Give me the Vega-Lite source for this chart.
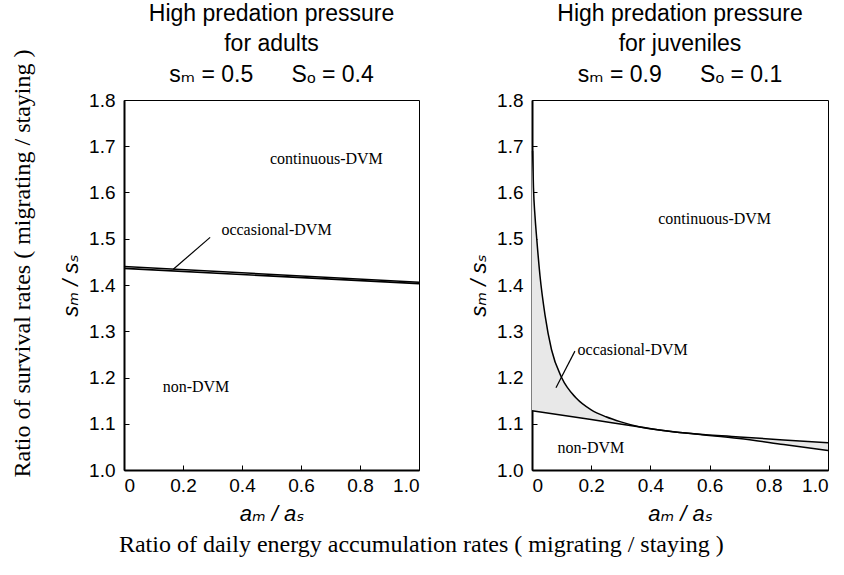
{
  "$schema": "https://vega.github.io/schema/vega-lite/v6.json",
  "background": "white",
  "padding": {"left": 11, "top": 2, "right": 5, "bottom": 5},
  "datasets": {
    "leftLines": [
      {"series": "a", "x": 0, "y": 1.440},
      {"series": "a", "x": 1, "y": 1.406},
      {"series": "b", "x": 0, "y": 1.436},
      {"series": "b", "x": 1, "y": 1.403}
    ],
    "rightLines": [
      {"series": "upper", "x": 0.002, "y": 1.69},
      {"series": "upper", "x": 0.005, "y": 1.61},
      {"series": "upper", "x": 0.01, "y": 1.55},
      {"series": "upper", "x": 0.016, "y": 1.50},
      {"series": "upper", "x": 0.027, "y": 1.42},
      {"series": "upper", "x": 0.044, "y": 1.335},
      {"series": "upper", "x": 0.066, "y": 1.26},
      {"series": "upper", "x": 0.1, "y": 1.2},
      {"series": "upper", "x": 0.15, "y": 1.155},
      {"series": "upper", "x": 0.2, "y": 1.13},
      {"series": "upper", "x": 0.25, "y": 1.115},
      {"series": "upper", "x": 0.3, "y": 1.104},
      {"series": "upper", "x": 0.365, "y": 1.093},
      {"series": "upper", "x": 0.45, "y": 1.085},
      {"series": "upper", "x": 0.55, "y": 1.078},
      {"series": "upper", "x": 0.7, "y": 1.068},
      {"series": "upper", "x": 0.85, "y": 1.055},
      {"series": "upper", "x": 1.0, "y": 1.042},
      {"series": "lower", "x": 0, "y": 1.128},
      {"series": "lower", "x": 0.2, "y": 1.109},
      {"series": "lower", "x": 0.365, "y": 1.093},
      {"series": "lower", "x": 0.5, "y": 1.081},
      {"series": "lower", "x": 0.7, "y": 1.0715},
      {"series": "lower", "x": 0.85, "y": 1.065},
      {"series": "lower", "x": 1.0, "y": 1.059}
    ],
    "shade": [
      {"part": "p1", "x": 0.0, "hi": 1.69, "lo": 1.128},
      {"part": "p1", "x": 0.002, "hi": 1.69, "lo": 1.128},
      {"part": "p1", "x": 0.005, "hi": 1.61, "lo": 1.1275},
      {"part": "p1", "x": 0.01, "hi": 1.55, "lo": 1.127},
      {"part": "p1", "x": 0.016, "hi": 1.50, "lo": 1.1265},
      {"part": "p1", "x": 0.027, "hi": 1.42, "lo": 1.1255},
      {"part": "p1", "x": 0.044, "hi": 1.335, "lo": 1.124},
      {"part": "p1", "x": 0.066, "hi": 1.26, "lo": 1.122},
      {"part": "p1", "x": 0.1, "hi": 1.2, "lo": 1.1185},
      {"part": "p1", "x": 0.15, "hi": 1.155, "lo": 1.1135},
      {"part": "p1", "x": 0.2, "hi": 1.13, "lo": 1.109},
      {"part": "p1", "x": 0.25, "hi": 1.115, "lo": 1.104},
      {"part": "p1", "x": 0.3, "hi": 1.104, "lo": 1.099},
      {"part": "p1", "x": 0.365, "hi": 1.093, "lo": 1.093},
      {"part": "p2", "x": 0.62, "hi": 1.0755, "lo": 1.0755},
      {"part": "p2", "x": 0.7, "hi": 1.0715, "lo": 1.068},
      {"part": "p2", "x": 0.85, "hi": 1.065, "lo": 1.055},
      {"part": "p2", "x": 1.0, "hi": 1.059, "lo": 1.042}
    ],
    "leftLabels": [
      {"label": "continuous-DVM", "x": 0.686, "y": 1.672},
      {"label": "occasional-DVM", "x": 0.517, "y": 1.52},
      {"label": "non-DVM", "x": 0.244, "y": 1.179}
    ],
    "rightLabels": [
      {"label": "continuous-DVM", "x": 0.617, "y": 1.542},
      {"label": "occasional-DVM", "x": 0.34, "y": 1.26},
      {"label": "non-DVM", "x": 0.199, "y": 1.048}
    ],
    "leftLeader": [{"x": 0.292, "y": 1.503, "x2": 0.167, "y2": 1.434}],
    "rightLeader": [{"x": 0.145, "y": 1.257, "x2": 0.081, "y2": 1.178}]
  },
  "config": {
    "view": {"stroke": "black", "strokeWidth": 1},
    "font": "Liberation Sans",
    "axis": {
      "grid": false,
      "domainColor": "black",
      "domainWidth": 2,
      "tickColor": "black",
      "tickSize": -5,
      "labelPadding": 14,
      "labelFont": "Liberation Sans",
      "labelFontSize": 19,
      "labelColor": "black",
      "titleFont": "Liberation Sans, DejaVu Sans",
      "titleFontSize": 22,
      "titleFontStyle": "italic",
      "titleFontWeight": "normal",
      "titleColor": "black"
    },
    "axisX": {"labelPadding": 11},
    "title": {
      "font": "Liberation Sans",
      "fontSize": 23,
      "fontWeight": "normal",
      "color": "black",
      "lineHeight": 30,
      "subtitleFont": "Liberation Sans, DejaVu Sans",
      "subtitleFontSize": 23,
      "subtitleColor": "black",
      "subtitlePadding": 8,
      "anchor": "middle",
      "offset": 4
    }
  },
  "title": {
    "text": "Ratio of daily energy accumulation rates ( migrating / staying )",
    "orient": "bottom",
    "font": "Liberation Serif",
    "fontSize": 24,
    "lineHeight": 26,
    "anchor": "middle",
    "offset": 8
  },
  "vconcat": [
    {
      "title": {
        "text": "Ratio of survival rates ( migrating / staying )",
        "orient": "left",
        "font": "Liberation Serif",
        "fontSize": 24,
        "lineHeight": 26,
        "anchor": "middle",
        "offset": 24
      },
      "spacing": 44,
      "hconcat": [
        {
          "width": 295,
          "height": 370,
          "title": {
            "text": ["High predation pressure", "for adults"],
            "subtitle": "sₘ = 0.5\u00a0\u00a0\u00a0\u00a0\u00a0\u00a0Sₒ = 0.4"
          },
          "layer": [
            {
              "data": {"name": "leftLines"},
              "mark": {"type": "line", "color": "black", "strokeWidth": 1.6},
              "encoding": {
                "x": {"field": "x", "type": "quantitative", "scale": {"domain": [0, 1], "nice": false},
                  "axis": {"values": [0, 0.2, 0.4, 0.6, 0.8, 1.0], "labelExpr": "datum.value == 0 ? '0' : format(datum.value, '.1f')", "title": "aₘ / aₛ", "titlePadding": 8}},
                "y": {"field": "y", "type": "quantitative", "scale": {"domain": [1.0, 1.8], "nice": false, "zero": false},
                  "axis": {"values": [1.0, 1.1, 1.2, 1.3, 1.4, 1.5, 1.6, 1.7, 1.8], "format": ".1f", "title": "sₘ / sₛ", "titlePadding": 6}},
                "detail": {"field": "series"}
              }
            },
            {
              "data": {"name": "leftLeader"},
              "mark": {"type": "rule", "color": "black", "strokeWidth": 1.2},
              "encoding": {
                "x": {"field": "x", "type": "quantitative"},
                "y": {"field": "y", "type": "quantitative"},
                "x2": {"field": "x2"},
                "y2": {"field": "y2"}
              }
            },
            {
              "data": {"name": "leftLabels"},
              "mark": {"type": "text", "font": "Liberation Serif", "fontSize": 16, "color": "black"},
              "encoding": {
                "x": {"field": "x", "type": "quantitative"},
                "y": {"field": "y", "type": "quantitative"},
                "text": {"field": "label"}
              }
            }
          ]
        },
        {
          "width": 296,
          "height": 370,
          "title": {
            "text": ["High predation pressure", "for juveniles"],
            "subtitle": "sₘ = 0.9\u00a0\u00a0\u00a0\u00a0\u00a0\u00a0Sₒ = 0.1"
          },
          "layer": [
            {
              "data": {"name": "shade"},
              "mark": {"type": "area", "color": "#e8e8e8", "opacity": 1},
              "encoding": {
                "x": {"field": "x", "type": "quantitative", "scale": {"domain": [0, 1], "nice": false},
                  "axis": {"values": [0, 0.2, 0.4, 0.6, 0.8, 1.0], "labelExpr": "datum.value == 0 ? '0' : format(datum.value, '.1f')", "title": "aₘ / aₛ", "titlePadding": 8}},
                "y": {"field": "hi", "type": "quantitative", "scale": {"domain": [1.0, 1.8], "nice": false, "zero": false},
                  "axis": {"values": [1.0, 1.1, 1.2, 1.3, 1.4, 1.5, 1.6, 1.7, 1.8], "format": ".1f", "title": "sₘ / sₛ", "titlePadding": 6}},
                "y2": {"field": "lo"},
                "detail": {"field": "part"}
              }
            },
            {
              "data": {"name": "rightLines"},
              "mark": {"type": "line", "color": "black", "strokeWidth": 1.5, "interpolate": "monotone"},
              "encoding": {
                "x": {"field": "x", "type": "quantitative"},
                "y": {"field": "y", "type": "quantitative"},
                "detail": {"field": "series"}
              }
            },
            {
              "data": {"name": "rightLeader"},
              "mark": {"type": "rule", "color": "black", "strokeWidth": 1.2},
              "encoding": {
                "x": {"field": "x", "type": "quantitative"},
                "y": {"field": "y", "type": "quantitative"},
                "x2": {"field": "x2"},
                "y2": {"field": "y2"}
              }
            },
            {
              "data": {"name": "rightLabels"},
              "mark": {"type": "text", "font": "Liberation Serif", "fontSize": 16, "color": "black"},
              "encoding": {
                "x": {"field": "x", "type": "quantitative"},
                "y": {"field": "y", "type": "quantitative"},
                "text": {"field": "label"}
              }
            }
          ]
        }
      ]
    }
  ]
}
